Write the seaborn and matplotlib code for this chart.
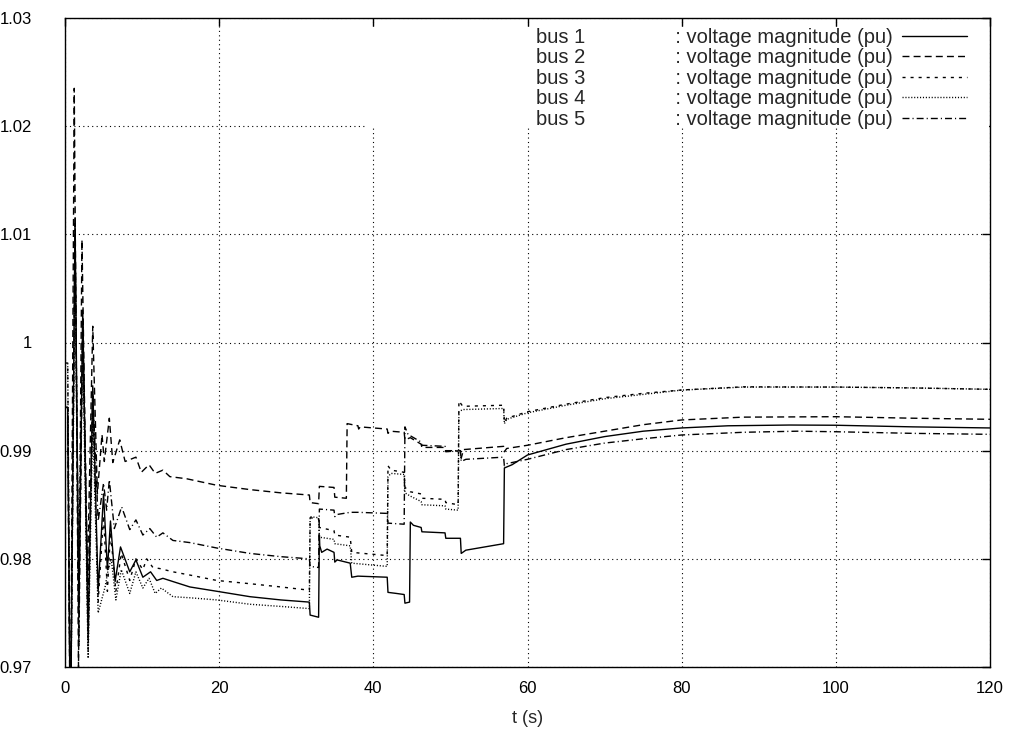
import matplotlib
matplotlib.use("Agg")
import matplotlib.pyplot as plt
import seaborn as sns
import pandas as pd
from matplotlib.patches import Rectangle

# ---------------- data ----------------
t_bus1 = [0, 0.35, 0.7, 1.3, 1.8, 2.3, 3.0, 3.6, 4.3, 5.0, 5.5, 5.9, 6.5, 7.2, 8.4, 9.2, 10.1, 11.1,
          11.9, 12.7, 14, 16.2, 19.7, 24, 28, 31.7,
          31.8, 32.9, 33.0, 33.05, 33.3, 34.0, 34.9, 35.0, 35.3, 37.0, 37.2, 38, 41.8, 41.9, 43, 44.0,
          44.1, 44.7, 44.8, 45.2, 46.2, 46.3, 49.3, 49.4, 51.3, 51.4, 52, 56.9, 57.0, 58, 60, 65, 70,
          75, 80, 86, 94, 100, 110, 120]
v_bus1 = [0.9940, 0.9940, 0.9620, 1.0115, 0.9750, 1.0030, 0.9725, 0.9960, 0.9770, 0.9860, 0.9790,
          0.9835, 0.9779, 0.9811, 0.9788, 0.9799, 0.9783, 0.9788, 0.9780, 0.9782, 0.9779, 0.9774,
          0.9770, 0.9765, 0.9762, 0.9760,
          0.9748, 0.9746, 0.9822, 0.9812, 0.9806, 0.9809, 0.9806, 0.9797, 0.9799, 0.9796, 0.9783,
          0.9784, 0.9783, 0.9769, 0.9768, 0.9767, 0.9759, 0.9760, 0.9834, 0.9831, 0.9829, 0.9825,
          0.9824, 0.9819, 0.9819, 0.9805, 0.9808, 0.9814, 0.9884, 0.9887, 0.9896, 0.9906, 0.9913,
          0.9918, 0.9921, 0.9923, 0.99237, 0.99235, 0.9922, 0.9921]

t_bus2 = [0, 0.35, 0.7, 1.2, 1.75, 2.2, 2.9, 3.6, 4.2, 4.8, 5.1, 5.75, 6.2, 7.1, 7.8, 9.2, 9.9, 10.9,
          11.7, 12.7, 13.6, 15.8, 19.7, 24, 28, 31.7,
          31.8, 32.9, 33.0, 34.9, 35.0, 36.5, 36.6, 38.0, 38.1, 38.3, 40, 41.8, 41.9, 42.2, 44.0, 44.1,
          44.8, 46.2, 46.3, 49.3, 49.4, 51.3, 51.4, 51.7, 56.9, 57.0, 57.3, 60, 65, 70, 75, 80, 88,
          100, 110, 120]
v_bus2 = [0.9940, 0.9940, 0.9600, 1.0235, 0.9700, 1.0095, 0.9780, 1.0015, 0.9860, 0.9915, 0.9890,
          0.9930, 0.9889, 0.9910, 0.9890, 0.9894, 0.9880, 0.9887, 0.9879, 0.9882, 0.9876, 0.9874,
          0.9868, 0.9864, 0.9861, 0.9859,
          0.9852, 0.9851, 0.9867, 0.9866, 0.9857, 0.9856, 0.9925, 0.9923, 0.9920, 0.9922, 0.9921,
          0.9920, 0.9916, 0.9918, 0.9917, 0.9910, 0.9912, 0.9906, 0.9903, 0.9903, 0.9899, 0.9900,
          0.9893, 0.9901, 0.9904, 0.9899, 0.9902, 0.9905, 0.9912, 0.9918, 0.9924, 0.99284, 0.9931,
          0.99314, 0.9930, 0.9929]

t_bus3 = [0, 0.35, 0.7, 1.3, 1.8, 2.3, 3.0, 3.6, 4.3, 5.0, 5.5, 5.9, 6.6, 7.3, 8.4, 9.2, 10.1, 10.6,
          11.4, 12.3, 14, 16.2, 19.7, 24, 28, 31.7,
          31.8, 32.9, 33.0, 34.9, 35.0, 37.0, 37.2, 41.8, 41.9, 42.3, 44.0, 44.1, 44.8, 46.2, 46.3,
          49.3, 49.4, 51.0, 51.1, 51.6, 56.9, 57.0, 57.3, 60, 65, 70, 75, 80, 88, 100, 110, 120]
v_bus3 = [0.9981, 0.9981, 0.9630, 1.0100, 0.9760, 1.0020, 0.9715, 0.9950, 0.9760, 0.9840, 0.9770,
          0.9825, 0.9770, 0.9805, 0.9780, 0.9800, 0.9790, 0.9800, 0.9792, 0.9791, 0.9788, 0.9785,
          0.9780, 0.9777, 0.9774, 0.9771,
          0.9838, 0.9837, 0.9829, 0.9826, 0.9822, 0.9820, 0.9806, 0.9803, 0.9886, 0.9882, 0.9880,
          0.9866, 0.9862, 0.9860, 0.9856, 0.9855, 0.9852, 0.9850, 0.9946, 0.9941, 0.9942, 0.9926,
          0.9930, 0.9936, 0.9943, 0.9949, 0.9953, 0.99561, 0.9959, 0.99588, 0.9958, 0.99567]

t_bus4 = [0, 0.35, 0.7, 1.3, 1.75, 2.3, 3.0, 3.6, 4.3, 5.2, 5.6, 6.0, 6.6, 7.3, 8.4, 9.2, 10.1, 10.9,
          11.7, 12.5, 14, 16.2, 19.7, 24, 28, 31.7,
          31.8, 32.9, 33.0, 34.9, 35.0, 37.0, 37.2, 41.8, 41.9, 42.3, 44.0, 44.1, 44.8, 46.2, 46.3,
          49.3, 49.4, 51.0, 51.1, 51.6, 56.9, 57.0, 57.3, 60, 65, 70, 75, 80, 88, 100, 110, 120]
v_bus4 = [0.9981, 0.9981, 0.9620, 1.0080, 0.9790, 1.0000, 0.9708, 0.9930, 0.9750, 0.9774, 0.9790,
          0.9800, 0.9762, 0.9790, 0.9768, 0.9788, 0.9773, 0.9782, 0.9768, 0.9773, 0.9765, 0.9764,
          0.9762, 0.9758, 0.9756, 0.9754,
          0.9839, 0.9838, 0.9820, 0.9818, 0.9814, 0.9812, 0.9796, 0.9793, 0.9876, 0.9879, 0.9878,
          0.9861, 0.9858, 0.9853, 0.9850, 0.9849, 0.9846, 0.9845, 0.9936, 0.9938, 0.9939, 0.9925,
          0.9929, 0.9935, 0.9942, 0.9948, 0.9952, 0.9956, 0.99588, 0.99588, 0.9958, 0.99567]

t_bus5 = [0, 0.35, 0.7, 1.3, 1.8, 2.3, 3.0, 3.6, 4.3, 5.0, 5.4, 5.75, 6.4, 7.35, 8.4, 9.2, 10.1, 11.0,
          11.9, 12.7, 14, 16.2, 19.7, 24, 28, 31.7,
          31.8, 32.9, 33.0, 34.9, 35.0, 35.3, 37.0, 38, 41.8, 41.9, 44.0, 44.1, 44.5, 46.2, 46.3,
          49.3, 49.4, 51.3, 51.4, 52, 56.9, 57.0, 57.3, 60, 65, 70, 75, 80, 88, 95, 100, 110, 120]
v_bus5 = [0.9940, 0.9940, 0.9620, 1.0110, 0.9720, 1.0020, 0.9760, 0.9955, 0.9835, 0.9870, 0.9845,
          0.9873, 0.9828, 0.9848, 0.9827, 0.9836, 0.9822, 0.9828, 0.9820, 0.9824, 0.9817, 0.9815,
          0.9810, 0.9805, 0.9802, 0.9800,
          0.9793, 0.9792, 0.9846, 0.9845, 0.9839, 0.9841, 0.9843, 0.9843, 0.9842, 0.9833, 0.9832,
          0.9922, 0.9915, 0.9908, 0.9905, 0.9904, 0.9900, 0.9900, 0.9890, 0.9892, 0.9894, 0.9886,
          0.9888, 0.9892, 0.9901, 0.9907, 0.9911, 0.99145, 0.9917, 0.9918, 0.99175, 0.9916, 0.99151]

bus_names = ["bus 1", "bus 2", "bus 3", "bus 4", "bus 5"]
series_label = ": voltage magnitude (pu)"
x_ticks = [0, 20, 40, 60, 80, 100, 120]
y_ticks = [0.97, 0.98, 0.99, 1.00, 1.01, 1.02, 1.03]
y_tick_labels = ["0.97", "0.98", "0.99", "1", "1.01", "1.02", "1.03"]

# ---------------- build table ----------------
frames = []
for name, tt, vv in zip(bus_names, [t_bus1, t_bus2, t_bus3, t_bus4, t_bus5],
                        [v_bus1, v_bus2, v_bus3, v_bus4, v_bus5]):
    frames.append(pd.DataFrame({"t": tt, "v": vv, "bus": name}))
df = pd.concat(frames, ignore_index=True)

# ---------------- figure ----------------
sns.set_theme(style="white")
plt.rcParams["font.family"] = ["Liberation Sans", "DejaVu Sans"]

fig = plt.figure(figsize=(10.16, 7.36), dpi=100)
ax = fig.add_axes([65 / 1016, (736 - 667) / 736, 925 / 1016, 649 / 736])

dash_map = {"bus 1": "", "bus 2": (5, 3), "bus 3": (2.2, 3.6), "bus 4": (0.8, 1.3),
            "bus 5": (5, 2.2, 0.8, 2.2)}
sns.lineplot(data=df, x="t", y="v", style="bus", style_order=bus_names, dashes=dash_map,
             color="black", estimator=None, sort=False, linewidth=1.0, legend=False, ax=ax)

ax.set_xlim(0, 120)
ax.set_ylim(0.97, 1.03)
ax.set_xticks(x_ticks)
ax.set_xticklabels([str(x) for x in x_ticks])
ax.set_yticks(y_ticks)
ax.set_yticklabels(y_tick_labels)
ax.set_xlabel("t (s)", fontsize=13, labelpad=10)
ax.set_ylabel("")

ax.tick_params(axis="both", which="major", direction="in", length=6, width=1.0,
               colors="black", labelsize=12, top=True, right=True)
ax.tick_params(axis="y", pad=24)
ax.tick_params(axis="x", pad=10)
for s in ax.spines.values():
    s.set_visible(True)
    s.set_color("black")
    s.set_linewidth(1.0)

ax.set_axisbelow(True)
ax.grid(True, color="black", linestyle=(0, (1, 3)), linewidth=0.8)

# opaque legend area hiding the grid (gnuplot-style key box)
x0 = (365 - 65) / 925
y0 = (667 - 127.5) / 649
y1 = (667 - 27) / 649
ax.add_patch(Rectangle((x0, y0), 1 - x0 - 0.001, y1 - y0, transform=ax.transAxes,
                       facecolor="white", edgecolor="none", zorder=1))

handles = ax.get_lines()[:5]
labels = [f"{b}{' ' * 16}{series_label}" for b in bus_names]
ax.legend(handles, labels, loc="upper right", bbox_to_anchor=(967 / 1016, 1 - 28 / 736),
          bbox_transform=fig.transFigure, frameon=False, markerfirst=False, fontsize=14.5,
          handlelength=3.25, handletextpad=0.45, labelspacing=0.07, borderpad=0,
          borderaxespad=0)

fig.savefig("out.png", dpi=100)
